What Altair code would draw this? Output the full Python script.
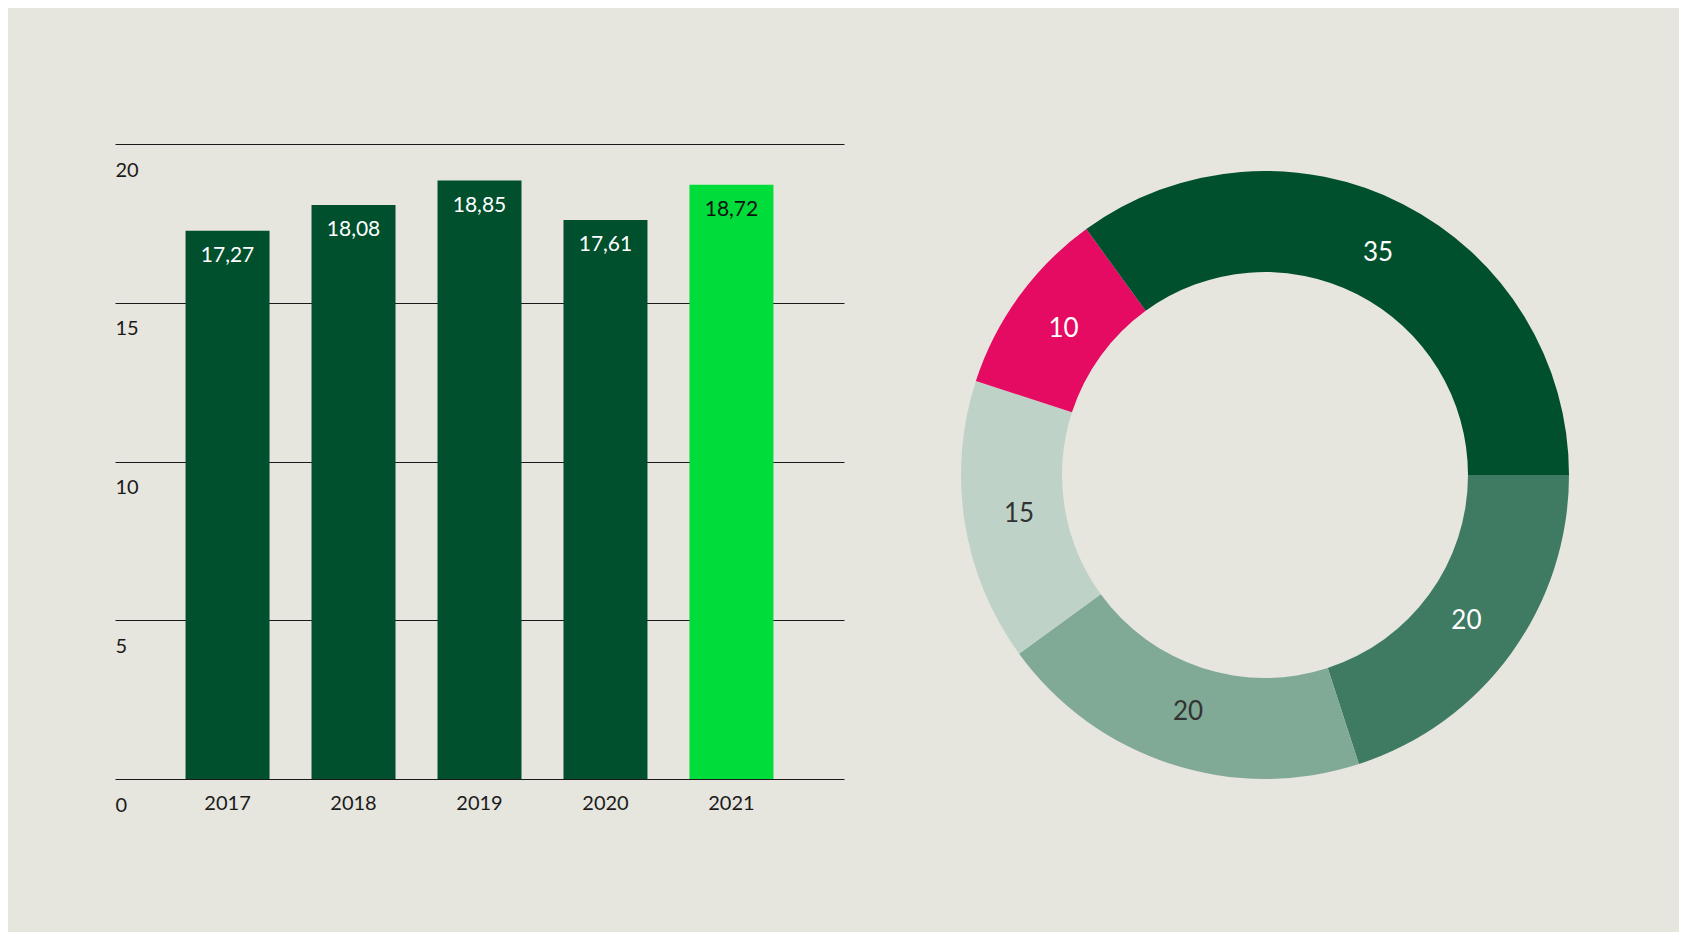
import math
import altair as alt
import pandas as pd

# ---- data ----
years = ["2017", "2018", "2019", "2020", "2021"]
values = [17.27, 18.08, 18.85, 17.61, 18.72]

slice_ids = ["s1", "s2", "s3", "s4", "s5"]
slice_values = [20, 20, 15, 10, 35]
slice_colors = ["#3f7b62", "#80a996", "#bed2c8", "#e50a62", "#004f2d"]

BG = "#e6e5de"
DARK = "#004f2d"
BRIGHT = "#00dc3a"
FONT = "Lato"

bar_df = pd.DataFrame({"year": years, "value": values})
pie_df = pd.DataFrame({"id": slice_ids, "value": slice_values, "order": list(range(len(slice_ids)))})

x_enc = alt.X(
    "year:N",
    sort=years,
    scale=alt.Scale(paddingInner=1 / 3, paddingOuter=0.56),
    axis=alt.Axis(
        title=None, ticks=False, domain=False, labelAngle=0,
        labelFontSize=20, labelColor="#1a1a1a", labelFont=FONT,
        labelPadding=14, labelBaseline="top",
    ),
)
y_enc = alt.Y(
    "value:Q",
    scale=alt.Scale(domain=[0, 20], nice=False),
    axis=alt.Axis(
        title=None, values=[0, 5, 10, 15, 20], ticks=False, domain=False,
        grid=True, gridColor="#1a1a1a", gridWidth=1,
        labelAlign="left", labelPadding=0, labelBaseline="alphabetic",
        labelOffset=32, labelFlush=False, labelFontSize=20,
        labelColor="#1a1a1a", labelFont=FONT,
    ),
)

is2021 = alt.datum.year == "2021"

bars = alt.Chart(bar_df).mark_bar().encode(
    x=x_enc,
    y=y_enc,
    color=alt.condition(is2021, alt.value(BRIGHT), alt.value(DARK)),
)

bar_text = alt.Chart(bar_df).transform_calculate(
    label="replace(format(datum.value, '.2f'), '.', ',')"
).mark_text(dy=25, fontSize=21, font=FONT, baseline="middle").encode(
    x=alt.X("year:N", sort=years),
    y=alt.Y("value:Q"),
    text="label:N",
    color=alt.condition(is2021, alt.value("#111111"), alt.value("white")),
)

bar_chart = alt.layer(bars, bar_text).properties(width=729, height=635)

theta_scale = alt.Scale(range=[math.pi / 2, math.pi / 2 + 2 * math.pi])

arcs = alt.Chart(pie_df).mark_arc(innerRadius=203, outerRadius=304).encode(
    theta=alt.Theta("value:Q", stack=True, scale=theta_scale),
    order=alt.Order("order:Q"),
    color=alt.Color("id:N", scale=alt.Scale(domain=slice_ids, range=slice_colors), legend=None),
)

light = alt.FieldOneOfPredicate(field="id", oneOf=["s2", "s3"])
arc_text = alt.Chart(pie_df).mark_text(fontSize=26, font=FONT, baseline="middle").encode(
    theta=alt.Theta("value:Q", stack=True, scale=theta_scale),
    order=alt.Order("order:Q"),
    radius=alt.value(249),
    text="value:Q",
    color=alt.condition(light, alt.value("#333333"), alt.value("white")),
)

donut = alt.layer(arcs, arc_text).properties(width=620, height=662)

chart = alt.hconcat(bar_chart, donut, spacing=111).properties(
    padding={"left": 107, "top": 136, "right": 104, "bottom": 117},
    background=BG,
).configure(font=FONT, view=alt.ViewConfig(stroke=None, strokeWidth=0))

chart.save("out.html", embed_options={"renderer": "svg", "actions": False})
